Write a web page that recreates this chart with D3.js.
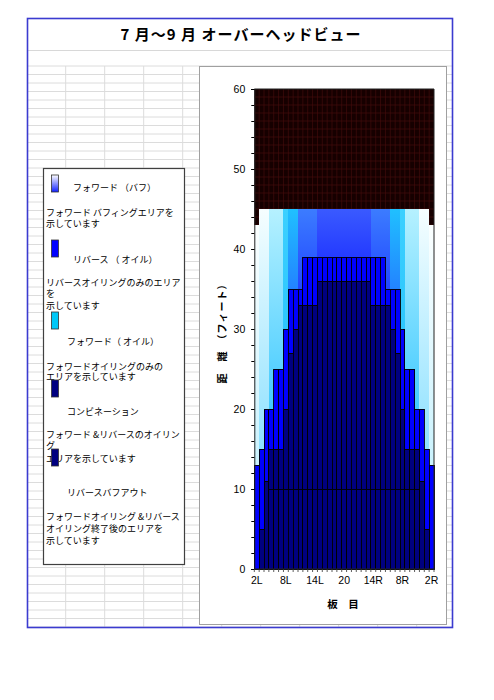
<!DOCTYPE html>
<html>
<head>
<meta charset="utf-8">
<script src="https://cdn.jsdelivr.net/npm/d3@7"></script>
<style>
  body { margin: 0; background: #fff; }
  text { font-family: "Noto Sans CJK JP", "Noto Sans", sans-serif; }
  .num { font-family: "Liberation Sans", Arial, sans-serif; }
</style>
</head>
<body>
<svg id="page" width="494" height="700"></svg>
<script>
// boards across the lane, left gutter to right gutter
var boards = ["2L","3L","4L","5L","6L","7L","8L","9L","10L","11L","12L","13L","14L","15L","16L","17L","18L","19L",
              "20",
              "19R","18R","17R","16R","15R","14R","13R","12R","11R","10R","9R","8R","7R","6R","5R","4R","3R","2R"];
var xTicks = ["2L","8L","14L","20","14R","8R","2R"];
var yTicks = [0, 10, 20, 30, 40, 50, 60];

// distance (ft) per board for each pattern layer
var forwardBuff = [43,45,45,45,45,45,45,45,45,45,45,45,45,45,45,45,45,45, 45, 45,45,45,45,45,45,45,45,45,45,45,45,45,45,45,45,45,43];
var reverseOil  = [13,15,20,20,25,25,30,35,35,35,39,39,39,39,39,39,39,39, 39, 39,39,39,39,39,39,39,39,35,35,35,30,25,25,20,20,15,13];
var combination = [0,5,11,15,15,15,20,27,30,33,33,33,33,36,36,36,36,36, 36, 36,36,36,36,36,33,33,33,33,30,27,20,15,15,15,11,5,0];
var buffOut     = [0,0,0,10,10,10,10,10,10,10,10,10,10,10,10,10,10,10, 10, 10,10,10,10,10,10,10,10,10,10,10,10,10,10,10,0,0,0];

var legendItems = [
  {swatch: "grad", sy: 175, label: "フォワード （バフ）", lx: 73, ly: 191,
   lines: [["フォワード バフィングエリアを", 216], ["示しています", 227]]},
  {swatch: "#0000ff", sy: 240, label: "リバース （ オイル）", lx: 73, ly: 263,
   lines: [["リバースオイリングのみのエリア", 286], ["を", 297], ["示しています", 309]]},
  {swatch: "#00c8f8", sy: 312, label: "フォワード（ オイル）", lx: 67, ly: 345,
   lines: [["フォワードオイリングのみの", 370], ["エリアを示しています", 380]]},
  {swatch: "#000080", sy: 380, label: "コンビネーション", lx: 67, ly: 415,
   lines: [["フォワード &リバースのオイリン", 438], ["グ", 449], ["エリアを示しています", 462]]},
  {swatch: "#000080", sy: 449, label: "リバースバフアウト", lx: 67, ly: 496,
   lines: [["フォワードオイリング &リバース", 520], ["オイリング終了後のエリアを", 532], ["示しています", 544]]}
];

var svg = d3.select("#page");

// sheet background: frame, title, cell grid
var sheet = svg.append("g");
for (var gy = 66; gy < 628; gy += 8.5) {
  sheet.append("line").attr("x1", 28).attr("x2", 452).attr("y1", gy).attr("y2", gy)
    .attr("stroke", "#dcdcdc").attr("stroke-width", 1);
}
for (var gx = 65.7; gx < 452; gx += 39) {
  sheet.append("line").attr("x1", gx).attr("x2", gx).attr("y1", 66).attr("y2", 628)
    .attr("stroke", "#dcdcdc").attr("stroke-width", 1);
}
sheet.append("line").attr("x1", 28).attr("x2", 452).attr("y1", 50.5).attr("y2", 50.5)
  .attr("stroke", "#d8d8d8");
sheet.append("rect").attr("x", 27.5).attr("y", 18.5).attr("width", 425).attr("height", 609)
  .attr("fill", "none").attr("stroke", "#3b3bd0").attr("stroke-width", 1.6);
sheet.append("text").attr("x", 241).attr("y", 40).attr("text-anchor", "middle")
  .attr("font-size", 15).attr("font-weight", "bold").attr("letter-spacing", 1)
  .text("7 月～9 月 オーバーヘッドビュー");

// legend
var legend = svg.append("g");
legend.append("rect").attr("x", 43.5).attr("y", 168.5).attr("width", 141).attr("height", 396)
  .attr("fill", "#fff").attr("stroke", "#404040").attr("stroke-width", 1.2);

var defs = svg.append("defs");
var lg = defs.append("linearGradient").attr("id", "legGrad")
  .attr("x1", 0).attr("y1", 0).attr("x2", 0).attr("y2", 1);
lg.append("stop").attr("offset", "0%").attr("stop-color", "#ffffff");
lg.append("stop").attr("offset", "100%").attr("stop-color", "#1020ff");

legendItems.forEach(function(d) {
  legend.append("rect").attr("x", 51.5).attr("y", d.sy).attr("width", 7).attr("height", 17)
    .attr("fill", d.swatch === "grad" ? "url(#legGrad)" : d.swatch)
    .attr("stroke", "#333").attr("stroke-width", 0.8);
  legend.append("text").attr("x", d.lx).attr("y", d.ly).attr("font-size", 9).text(d.label);
  d.lines.forEach(function(l) {
    legend.append("text").attr("x", 46).attr("y", l[1]).attr("font-size", 9).text(l[0]);
  });
});

// chart box
svg.append("rect").attr("x", 199.5).attr("y", 66.5).attr("width", 247).attr("height", 558)
  .attr("fill", "#fff").attr("stroke", "#a0a0a0").attr("stroke-width", 1);

var xScale = d3.scaleBand().domain(boards).range([254.3, 434]).padding(0);
var yScale = d3.scaleLinear().domain([0, 60]).range([569, 89]);

// colour of each board for the buff layer: top, bottom, where bottom colour is reached
var zoneColors = [
  ["#fbffff", "#b4ecfc", 1],
  ["#f6feff", "#58d2ff", 1],
  ["#b6f1ff", "#18bcff", 0.75],
  ["#3cd0ff", "#10b4f8", 1],
  ["#20c0ff", "#2460ff", 0.35],
  ["#3c7cff", "#1834ff", 0.3],
  ["#3a5aff", "#0c18ff", 0.28]
];
zoneColors.forEach(function(c, i) {
  var g = defs.append("linearGradient").attr("id", "buff" + i)
    .attr("x1", 0).attr("y1", 0).attr("x2", 0).attr("y2", 1);
  g.append("stop").attr("offset", "0%").attr("stop-color", c[0]);
  g.append("stop").attr("offset", (c[2] * 100) + "%").attr("stop-color", c[1]);
  g.append("stop").attr("offset", "100%").attr("stop-color", c[1]);
});
function zoneOf(i) {
  var d = Math.min(i, boards.length - 1 - i);
  if (d === 0) return 0;
  if (d <= 2) return 1;
  if (d <= 5) return 2;
  if (d === 6) return 3;
  if (d <= 8) return 4;
  if (d <= 12) return 5;
  return 6;
}

var plot = svg.append("g");
// dark plot area with red grid
plot.append("rect").attr("x", xScale.range()[0]).attr("y", yScale(60))
  .attr("width", xScale.range()[1] - xScale.range()[0]).attr("height", yScale(0) - yScale(60))
  .attr("fill", "#160000");
plot.selectAll("line.hg").data(d3.range(1, 60)).enter().append("line")
  .attr("x1", xScale.range()[0]).attr("x2", xScale.range()[1])
  .attr("y1", function(d) { return yScale(d); }).attr("y2", function(d) { return yScale(d); })
  .attr("stroke", "#4a0e0e").attr("stroke-width", 0.6);
plot.selectAll("line.vg").data(boards.slice(1)).enter().append("line")
  .attr("x1", function(d) { return xScale(d); }).attr("x2", function(d) { return xScale(d); })
  .attr("y1", yScale(60)).attr("y2", yScale(0))
  .attr("stroke", "#4a0e0e").attr("stroke-width", 0.6);

function addLayer(values, fill, stroke) {
  plot.append("g").selectAll("rect")
    .data(values.map(function(v, i) { return {b: boards[i], v: v, i: i}; }).filter(function(d) { return d.v > 0; }))
    .enter().append("rect")
    .attr("x", function(d) { return xScale(d.b); })
    .attr("y", function(d) { return yScale(d.v); })
    .attr("width", xScale.bandwidth())
    .attr("height", function(d) { return yScale(0) - yScale(d.v); })
    .attr("fill", fill)
    .attr("stroke", stroke ? "#000" : "none")
    .attr("stroke-width", stroke ? 0.9 : 0)
    .attr("shape-rendering", "crispEdges");
}
addLayer(forwardBuff, function(d) { return "url(#buff" + zoneOf(d.i) + ")"; }, false);
addLayer(reverseOil, "#0000ff", true);
addLayer(combination, "#000080", true);
addLayer(buffOut, "#000080", true);

// plot border
plot.append("path")
  .attr("d", "M" + xScale.range()[0] + "," + yScale(60) + "H" + xScale.range()[1] + "V" + yScale(0))
  .attr("fill", "none").attr("stroke", "#222").attr("stroke-width", 1);

// axes
var yMinor = svg.append("g").attr("transform", "translate(" + xScale.range()[0] + ",0)")
  .call(d3.axisLeft(yScale).tickValues(d3.range(0, 61, 2)).tickSize(3).tickFormat(""));
yMinor.select(".domain").attr("stroke", "#222");
var yAxis = svg.append("g").attr("transform", "translate(" + xScale.range()[0] + ",0)")
  .call(d3.axisLeft(yScale).tickValues(yTicks).tickSize(3).tickPadding(6));
yAxis.select(".domain").remove();
yAxis.selectAll("text").attr("class", "num").attr("font-size", 10.5).attr("fill", "#000");

var xAxisG = svg.append("g").attr("transform", "translate(0," + yScale(0) + ")");
xAxisG.append("line").attr("x1", xScale.range()[0]).attr("x2", xScale.range()[1])
  .attr("y1", 0).attr("y2", 0).attr("stroke", "#222");
xAxisG.selectAll("line.bt").data(boards.concat(["end"])).enter().append("line")
  .attr("x1", function(d) { return d === "end" ? xScale.range()[1] : xScale(d); })
  .attr("x2", function(d) { return d === "end" ? xScale.range()[1] : xScale(d); })
  .attr("y1", 0).attr("y2", 3).attr("stroke", "#333").attr("stroke-width", 0.8);
var xAxis = svg.append("g").attr("transform", "translate(0," + yScale(0) + ")")
  .call(d3.axisBottom(xScale).tickValues(xTicks).tickSize(0).tickPadding(8));
xAxis.select(".domain").remove();
xAxis.selectAll("text").attr("class", "num").attr("font-size", 10.5).attr("fill", "#000");

// axis titles
svg.append("text").attr("transform", "translate(226,331) rotate(-90)")
  .attr("text-anchor", "middle").attr("font-size", 10).attr("font-weight", "bold")
  .attr("letter-spacing", 1).text("距　離　（フィート）");
svg.append("text").attr("x", 343).attr("y", 608).attr("text-anchor", "middle")
  .attr("font-size", 10.5).attr("font-weight", "bold").text("板　目");
</script>
</body>
</html>
